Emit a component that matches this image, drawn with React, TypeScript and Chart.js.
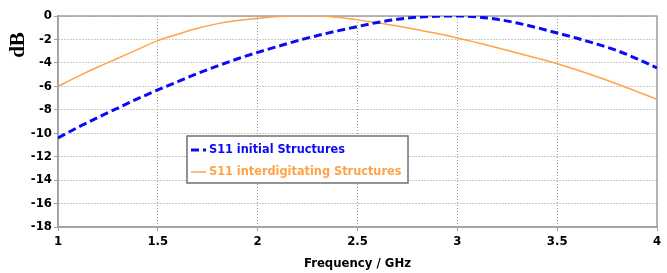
import { useEffect, useRef } from "react";
import { Chart, registerables } from "chart.js";

Chart.register(...registerables);

const frequencies = [
  1.0, 1.1, 1.2, 1.3, 1.4, 1.5, 1.6, 1.7, 1.8, 1.9, 2.0, 2.1, 2.2, 2.3, 2.4, 2.5,
  2.6, 2.7, 2.8, 2.9, 3.0, 3.1, 3.2, 3.3, 3.4, 3.5, 3.6, 3.7, 3.8, 3.9, 4.0,
];
const s11Initial = [
  -10.4, -9.5, -8.65, -7.85, -7.05, -6.3, -5.6, -4.9, -4.25, -3.65, -3.1, -2.6, -2.1,
  -1.67, -1.27, -0.9, -0.55, -0.28, -0.1, -0.02, 0, -0.08, -0.28, -0.6, -1.0, -1.45,
  -1.9, -2.4, -2.95, -3.65, -4.43,
];
const s11Interdigitating = [
  -6.0, -5.15, -4.35, -3.6, -2.85, -2.1, -1.55, -1.05, -0.65, -0.38, -0.2, -0.05, 0,
  0, -0.1, -0.33, -0.58, -0.86, -1.17, -1.5, -1.87, -2.28, -2.7, -3.15, -3.6, -4.07,
  -4.6, -5.18, -5.8, -6.45, -7.1,
];
const seriesLabels = ["S11 initial Structures", "S11 interdigitating Structures"];
const xTitle = "Frequency / GHz";
const yTitle = "dB";

const FAMILY = "'DejaVu Sans Condensed', 'DejaVu Sans', sans-serif";
const tickFont = { family: FAMILY, size: 13, weight: "bold" as const };
const BLUE = "#0a0af5";
const ORANGE = "#ffa347";

const decorPlugin = {
  id: "decor",
  beforeDatasetsDraw(chart: any) {
    const { ctx, chartArea } = chart;
    ctx.save();
    ctx.strokeStyle = "#a0a0a0";
    ctx.lineWidth = 1.5;
    ctx.setLineDash([]);
    ctx.strokeRect(chartArea.left, chartArea.top, chartArea.right - chartArea.left, chartArea.bottom - chartArea.top);
    ctx.restore();
  },
  afterDraw(chart: any) {
    const { ctx } = chart;
    ctx.save();
    // y-axis title
    ctx.translate(19, 45);
    ctx.rotate(-Math.PI / 2);
    ctx.font = "bold 21px 'Liberation Serif', serif";
    ctx.fillStyle = "#000";
    ctx.textAlign = "center";
    ctx.textBaseline = "middle";
    ctx.fillText(yTitle, 0, 0);
    ctx.restore();

    // legend box
    const bx = 187, by = 136, bw = 221, bh = 47;
    ctx.save();
    ctx.fillStyle = "#ffffff";
    ctx.fillRect(bx, by, bw, bh);
    ctx.strokeStyle = "#707070";
    ctx.lineWidth = 1.5;
    ctx.strokeRect(bx, by, bw, bh);
    ctx.font = `bold 12.6px ${FAMILY}`;
    ctx.textBaseline = "middle";
    ctx.textAlign = "left";
    const ds = chart.data.datasets;
    const rows = [150, 172];
    ds.forEach((d: any, i: number) => {
      const y = rows[i];
      ctx.beginPath();
      ctx.strokeStyle = d.borderColor;
      ctx.lineWidth = d.borderWidth;
      ctx.setLineDash(d.borderDash || []);
      ctx.moveTo(191, y);
      ctx.lineTo(206, y);
      ctx.stroke();
      ctx.setLineDash([]);
      ctx.fillStyle = d.borderColor;
      ctx.fillText(d.label, 209, y);
    });
    ctx.restore();
  },
};

export default function App() {
  const ref = useRef<HTMLCanvasElement | null>(null);
  useEffect(() => {
    if (!ref.current) return;
    const chart = new Chart(ref.current, {
      type: "line",
      data: {
        datasets: [
          {
            label: seriesLabels[0],
            data: frequencies.map((f, i) => ({ x: f, y: s11Initial[i] })),
            borderColor: BLUE,
            borderWidth: 3,
            borderDash: [8, 4],
            pointRadius: 0,
            fill: false,
            cubicInterpolationMode: "monotone",
          },
          {
            label: seriesLabels[1],
            data: frequencies.map((f, i) => ({ x: f, y: s11Interdigitating[i] })),
            borderColor: ORANGE,
            borderWidth: 1.5,
            pointRadius: 0,
            fill: false,
            cubicInterpolationMode: "monotone",
          },
        ],
      },
      options: {
        animation: false,
        responsive: false,
        maintainAspectRatio: false,
        layout: { padding: { left: 0, top: 16, right: 10, bottom: 0 } },
        plugins: { legend: { display: false }, tooltip: { enabled: false } },
        scales: {
          x: {
            type: "linear",
            min: 1,
            max: 4,
            ticks: {
              stepSize: 0.5,
              color: "#000",
              font: tickFont,
              padding: 3,
              maxRotation: 0,
              callback: (v: any) => String(Number(v)),
            },
            grid: { color: "#999999", tickColor: "#a0a0a0", tickLength: 4, tickBorderDash: [] },
            border: { display: true, color: "#a0a0a0", width: 1.5, dash: [1, 2] },
            title: { display: true, text: xTitle, color: "#000", font: tickFont, padding: { top: 4, bottom: 2 } },
            afterFit: (s: any) => { s.height = 46; },
          },
          y: {
            min: -18,
            max: 0,
            ticks: { stepSize: 2, color: "#000", font: tickFont, padding: 2 },
            grid: { color: "#999999", tickColor: "#a0a0a0", tickLength: 4, tickBorderDash: [] },
            border: { display: true, color: "#a0a0a0", width: 1.5, dash: [1, 2] },
            afterFit: (s: any) => { s.width = 58; },
          },
        },
      },
      plugins: [decorPlugin],
    });
    return () => chart.destroy();
  }, []);
  return (
    <div style={{ position: "fixed", left: 0, top: 0, width: 667, height: 273, background: "#fff" }}>
      <canvas ref={ref} width={667} height={273} style={{ width: 667, height: 273, display: "block" }} />
    </div>
  );
}
